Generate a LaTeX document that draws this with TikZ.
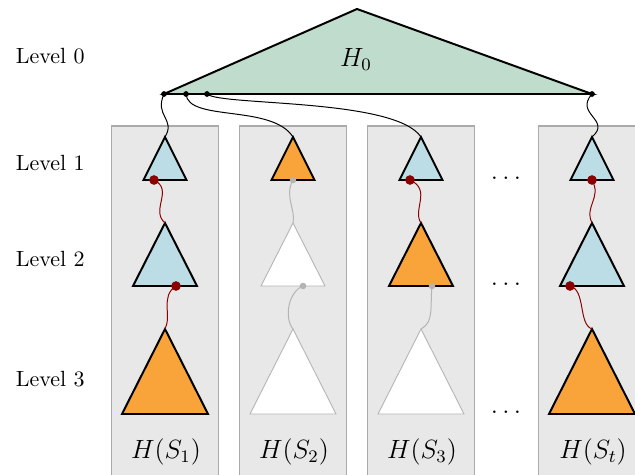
\documentclass[tikz,border=0pt]{standalone}
\usepackage{xcolor}
\definecolor{tblue}{HTML}{BCDDE5}
\definecolor{torange}{HTML}{F9A43A}
\definecolor{tgreen}{HTML}{BFDCCC}
\definecolor{boxfill}{HTML}{E8E8E8}
\definecolor{boxline}{HTML}{ABABAB}
\definecolor{lgray}{HTML}{B4B4B4}
\definecolor{dred}{HTML}{8B0000}
\newcommand{\mytri}[6]{% name, cx, apex y, half width, height, style
  \draw[#6] (#2,#3) coordinate (#1) -- (#2+#4,#3+#5) -- (#2-#4,#3+#5) -- cycle;}
\begin{document}
\begin{tikzpicture}[x=0.4545pt,y=-0.4545pt,
  colbox/.style={draw=boxline,fill=boxfill,line width=0.7pt},
  tblk/.style={draw=black,line width=0.9pt,line join=miter},
  twht/.style={draw=lgray,fill=white,line width=0.4pt},
  redlink/.style={draw=dred,line width=0.45pt},
  graylink/.style={draw=lgray,line width=0.45pt},
  blklink/.style={draw=black,line width=0.45pt},
  reddot/.style={fill=dred,circle,inner sep=0pt,minimum size=4.4pt},
  graydot/.style={fill=lgray,circle,inner sep=0pt,minimum size=3pt},
  blkdot/.style={fill=black,circle,inner sep=0pt,minimum size=2.6pt},
  lvl/.style={anchor=west,font=\normalsize},
  hlab/.style={font=\large}]
\clip (0,0) rectangle (635,475);
% column boxes
\draw[colbox] (111.5,126) rectangle (218.5,490);
\draw[colbox] (239.5,126) rectangle (346.5,490);
\draw[colbox] (367.5,126) rectangle (474.5,490);
\draw[colbox] (538.5,126) rectangle (650,490);
% H0
\draw[tblk,fill=tgreen] (357,9) -- (592,94) -- (164,94) -- cycle;
\node[hlab] (h0lab) at (356,59) {$H_0$};
\coordinate (h1) at (164,94);
\coordinate (h2) at (186,94);
\coordinate (h3) at (207,94);
\coordinate (h4) at (592,94);
% level labels
\node[lvl] (lv0) at (8,56) {Level 0};
\node[lvl] (lv1) at (8,163) {Level 1};
\node[lvl] (lv2) at (8,259) {Level 2};
\node[lvl] (lv3) at (8,379) {Level 3};
% column 1
\mytri{t11}{165}{137}{21.5}{43}{tblk,fill=tblue}
\mytri{t12}{165}{223}{32}{63}{tblk,fill=tblue}
\mytri{t13}{165}{329}{43}{85}{tblk,fill=torange}
% column 2
\mytri{t21}{293}{137}{21.5}{43}{tblk,fill=torange}
\mytri{t22}{293}{223}{32}{63}{twht}
\mytri{t23}{293}{329}{43}{85}{twht}
% column 3
\mytri{t31}{421}{137}{21.5}{43}{tblk,fill=tblue}
\mytri{t32}{421}{223}{32}{63}{tblk,fill=torange}
\mytri{t33}{421}{329}{43}{85}{twht}
% column 4
\mytri{t41}{592}{137}{21.5}{43}{tblk,fill=tblue}
\mytri{t42}{592}{223}{32}{63}{tblk,fill=tblue}
\mytri{t43}{592}{329}{43}{85}{tblk,fill=torange}
% link points
\coordinate (d11) at (154,180);
\coordinate (d12) at (176,286);
\coordinate (d21) at (293,180);
\coordinate (d22) at (303,286);
\coordinate (d31) at (410,180);
\coordinate (d32) at (432,286);
\coordinate (d41) at (592,180);
\coordinate (d42) at (570,286);
% links from H0
\draw[blklink] (h1) .. controls (154,116) and (176,119) .. (t11);
\draw[blklink] (h2) .. controls (188,122) and (272,104) .. (t21);
\draw[blklink] (h3) .. controls (220,106) and (395,98) .. (t31);
\draw[blklink] (h4) .. controls (574,114) and (612,120) .. (t41);
% links between levels
\draw[redlink] (d11) .. controls (174,190) and (150,210) .. (t12);
\draw[redlink] (d12) .. controls (160,296) and (172,316) .. (t13);
\draw[graylink] (d21) .. controls (284,196) and (296,210) .. (t22);
\draw[graylink] (d22) .. controls (288,292) and (284,318) .. (t23);
\draw[redlink] (d31) .. controls (432,190) and (412,210) .. (t32);
\draw[graylink] (d32) .. controls (430,308) and (434,322) .. (t33);
\draw[redlink] (d41) .. controls (602,198) and (584,206) .. (t42);
\draw[redlink] (d42) .. controls (586,290) and (578,324) .. (t43);
% dots
\node[blkdot] (b1) at (h1) {};
\node[blkdot] (b2) at (h2) {};
\node[blkdot] (b3) at (h3) {};
\node[blkdot] (b4) at (h4) {};
\node[reddot] (r11) at (d11) {};
\node[reddot] (r12) at (d12) {};
\node[graydot] (g21) at (d21) {};
\node[graydot] (g22) at (d22) {};
\node[reddot] (r31) at (d31) {};
\node[graydot] (g32) at (d32) {};
\node[reddot] (r41) at (d41) {};
\node[reddot] (r42) at (d42) {};
% ellipses
\node[hlab] (e1) at (506,178) {$\ldots$};
\node[hlab] (e2) at (506,284) {$\ldots$};
\node[hlab] (e3) at (506,412) {$\ldots$};
% column labels
\node[hlab] (s1) at (166,452) {$H(S_1)$};
\node[hlab] (s2) at (294,452) {$H(S_2)$};
\node[hlab] (s3) at (422,452) {$H(S_3)$};
\node[hlab] (s4) at (593,452) {$H(S_t)$};
\end{tikzpicture}
\end{document}
